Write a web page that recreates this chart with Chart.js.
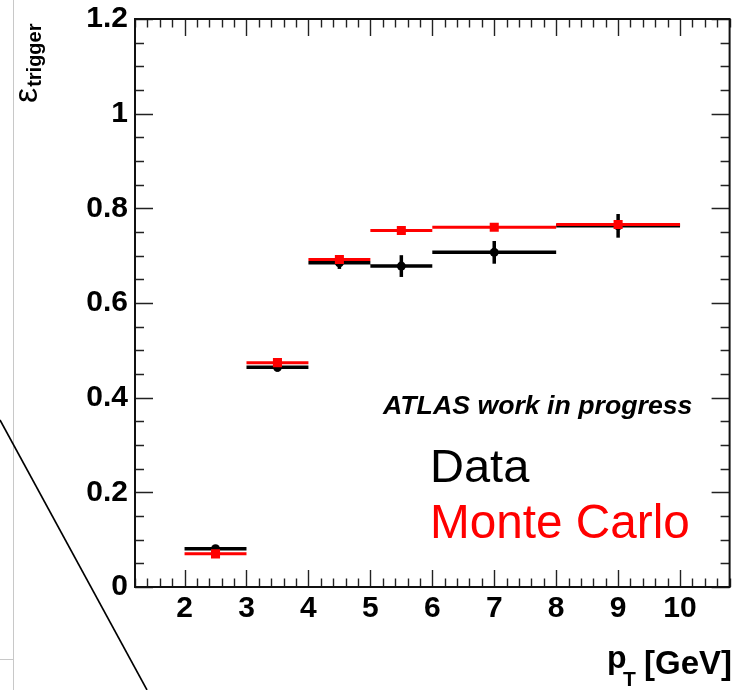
<!DOCTYPE html>
<html>
<head>
<meta charset="utf-8">
<script src="https://cdn.jsdelivr.net/npm/chart.js@4.4.1/dist/chart.umd.min.js"></script>
<style>
    html, body { margin: 0; padding: 0; background: #fff; }
    canvas { display: block; }
</style>
</head>
<body>
<canvas id="eff-chart" width="736" height="690"></canvas>
<script>
// pT bins [GeV]
const binLow  = [2, 3, 4, 5, 6, 8];
const binHigh = [3, 4, 5, 6, 8, 10];
const binMid  = [2.5, 3.5, 4.5, 5.5, 7, 9];

// trigger efficiency - data
const dataEff = [0.081, 0.464, 0.685, 0.678, 0.707, 0.763];
const dataErr = [0.006, 0.009, 0.013, 0.023, 0.024, 0.025];

// trigger efficiency - Monte Carlo
const mcEff = [0.070, 0.474, 0.692, 0.753, 0.760, 0.766];
const mcErr = [0.004, 0.004, 0.005, 0.005, 0.005, 0.006];

const xTickValues = [2, 3, 4, 5, 6, 7, 8, 9, 10];

const FONT = '"Liberation Sans", Arial, Helvetica, sans-serif';

// horizontal bin lines, one segment per bin with gaps in between
function binSteps(eff) {
    const pts = [];
    eff.forEach((v, i) => {
        pts.push({ x: binLow[i], y: v });
        pts.push({ x: binHigh[i], y: v });
        pts.push({ x: binHigh[i], y: null });
    });
    return pts;
}

function centers(eff) {
    return eff.map((v, i) => ({ x: binMid[i], y: v }));
}

// vertical error bars, drawn just before the markers of the same dataset
const errorBars = {
    id: 'errorBars',
    beforeDatasetDraw(chart, args) {
        const ds = chart.data.datasets[args.index];
        if (!ds.errors) return;
        const { ctx, scales: { x, y } } = chart;
        ctx.save();
        ctx.strokeStyle = ds.errColor;
        ctx.lineWidth = ds.errWidth;
        ds.data.forEach((p, i) => {
            const px = x.getPixelForValue(p.x);
            ctx.beginPath();
            ctx.moveTo(px, y.getPixelForValue(p.y - ds.errors[i]));
            ctx.lineTo(px, y.getPixelForValue(p.y + ds.errors[i]));
            ctx.stroke();
        });
        ctx.restore();
    }
};

// ROOT style frame with ticks on all four sides, pointing inwards
const frame = {
    id: 'frame',
    afterDraw(chart) {
        const { ctx, chartArea: a, scales: { x, y } } = chart;
        ctx.save();
        ctx.strokeStyle = '#222';
        ctx.lineWidth = 1.4;
        ctx.beginPath();
        for (let i = 0; i <= 48; i++) {
            const v = x.min + i * 0.2;
            const major = Math.abs(v - Math.round(v)) < 1e-6;
            const len = major ? 17 : 8.5;
            const px = Math.round(x.getPixelForValue(v)) + 0.5;
            ctx.moveTo(px, a.bottom); ctx.lineTo(px, a.bottom - len);
            ctx.moveTo(px, a.top); ctx.lineTo(px, a.top + len);
        }
        for (let i = 0; i <= 24; i++) {
            const v = y.min + i * 0.05;
            const len = i % 4 === 0 ? 18 : 9;
            const py = Math.round(y.getPixelForValue(v)) + 0.5;
            ctx.moveTo(a.left, py); ctx.lineTo(a.left + len, py);
            ctx.moveTo(a.right, py); ctx.lineTo(a.right - len, py);
        }
        ctx.stroke();
        ctx.lineWidth = 2;
        ctx.strokeStyle = '#111';
        ctx.strokeRect(a.left, a.top, a.right - a.left, a.bottom - a.top);
        ctx.restore();
    }
};

// titles, labels and the bits of the slide around the plot
const annotations = {
    id: 'annotations',
    afterDraw(chart) {
        const ctx = chart.ctx;
        ctx.save();

        // slide leftovers
        ctx.strokeStyle = '#c8c8c8';
        ctx.lineWidth = 1;
        ctx.beginPath();
        ctx.moveTo(13.5, 0); ctx.lineTo(13.5, 690);
        ctx.moveTo(0, 659.5); ctx.lineTo(13, 659.5);
        ctx.stroke();
        ctx.strokeStyle = '#000';
        ctx.lineWidth = 1.6;
        ctx.beginPath();
        ctx.moveTo(0, 420); ctx.lineTo(147, 690);
        ctx.stroke();

        ctx.fillStyle = '#000';
        ctx.textBaseline = 'alphabetic';

        // y axis title
        ctx.save();
        ctx.translate(37, 103);
        ctx.rotate(-Math.PI / 2);
        ctx.font = '34px ' + FONT;
        ctx.fillText('ε', 0, 0);
        const w = ctx.measureText('ε').width;
        ctx.font = 'bold 20px ' + FONT;
        ctx.fillText('trigger', w + 1, 4);
        ctx.restore();

        // x axis title
        ctx.textAlign = 'left';
        ctx.font = 'bold 32px ' + FONT;
        ctx.fillText('p', 607, 668);
        ctx.font = 'bold 21px ' + FONT;
        ctx.fillText('T', 623, 686);
        ctx.textAlign = 'right';
        ctx.font = 'bold 33px ' + FONT;
        ctx.fillText('[GeV]', 732, 674);

        // labels inside the frame
        ctx.textAlign = 'left';
        ctx.font = 'italic bold 26.7px ' + FONT;
        ctx.fillText('ATLAS work in progress', 383, 414);
        ctx.font = '47px ' + FONT;
        ctx.fillText('Data', 430, 482);
        ctx.font = '47.7px ' + FONT;
        ctx.fillStyle = '#ff0000';
        ctx.fillText('Monte Carlo', 430, 538);

        ctx.restore();
    }
};

new Chart(document.getElementById('eff-chart').getContext('2d'), {
    type: 'scatter',
    data: {
        datasets: [
            {
                label: 'Monte Carlo',
                data: centers(mcEff),
                errors: mcErr,
                errColor: '#ff0000',
                errWidth: 3,
                pointStyle: 'rect',
                pointRadius: 6.4,
                pointBackgroundColor: '#ff0000',
                pointBorderColor: '#ff0000',
                pointBorderWidth: 0
            },
            {
                label: 'Monte Carlo bins',
                data: binSteps(mcEff),
                showLine: true,
                spanGaps: false,
                borderColor: '#ff0000',
                borderWidth: 3,
                pointRadius: 0
            },
            {
                label: 'Data',
                data: centers(dataEff),
                errors: dataErr,
                errColor: '#000',
                errWidth: 3.5,
                pointStyle: 'circle',
                pointRadius: 4.5,
                pointBackgroundColor: '#000',
                pointBorderColor: '#000',
                pointBorderWidth: 0
            },
            {
                label: 'Data bins',
                data: binSteps(dataEff),
                showLine: true,
                spanGaps: false,
                borderColor: '#000',
                borderWidth: 3.5,
                pointRadius: 0
            }
        ]
    },
    options: {
        responsive: false,
        animation: false,
        layout: { padding: { top: 19, right: 4.5, left: 0, bottom: 0 } },
        plugins: {
            legend: { display: false },
            tooltip: { enabled: false }
        },
        scales: {
            x: {
                type: 'linear',
                min: 1.2,
                max: 10.8,
                grid: { display: false, drawTicks: false },
                border: { display: false },
                afterBuildTicks: scale => {
                    scale.ticks = xTickValues.map(v => ({ value: v }));
                },
                afterFit: scale => { scale.height = 103; },
                ticks: {
                    padding: 4,
                    maxRotation: 0,
                    autoSkip: false,
                    color: '#000',
                    font: { family: FONT, size: 30, weight: 'bold' }
                }
            },
            y: {
                type: 'linear',
                min: 0,
                max: 1.2,
                grid: { display: false, drawTicks: false },
                border: { display: false },
                afterFit: scale => { scale.width = 135; },
                ticks: {
                    stepSize: 0.2,
                    padding: 7,
                    color: '#000',
                    font: { family: FONT, size: 30, weight: 'bold', lineHeight: 0.7 },
                    callback: value => String(Math.round(value * 10) / 10)
                }
            }
        }
    },
    plugins: [errorBars, frame, annotations]
});
</script>
</body>
</html>
